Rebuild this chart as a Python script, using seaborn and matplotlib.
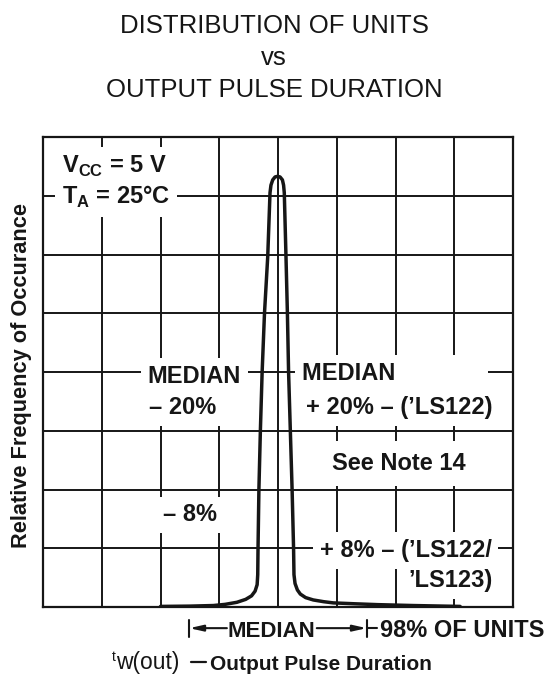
import matplotlib
matplotlib.use("Agg")
import matplotlib.pyplot as plt
import seaborn as sns

# curve, in grid divisions (8 x 8 grid, median at 4)
tw_units = [2.0, 2.5, 2.9, 3.1, 3.3, 3.45, 3.55, 3.61, 3.645, 3.655, 3.66,
            3.675, 3.70, 3.73, 3.77, 3.825, 3.864, 3.88, 3.91, 3.95, 3.99,
            4.035, 4.075, 4.095, 4.107, 4.136, 4.16, 4.18, 4.21, 4.24, 4.265,
            4.272, 4.29, 4.33, 4.38, 4.47, 4.6, 4.78, 4.94, 5.3, 5.7, 6.3, 7.1]
rel_freq = [0.01, 0.015, 0.025, 0.045, 0.08, 0.13, 0.19, 0.27, 0.38, 0.55, 1.0,
            2.0, 3.0, 4.0, 5.0, 5.96, 7.05, 7.18, 7.27, 7.32, 7.33,
            7.32, 7.27, 7.18, 7.05, 5.96, 5.0, 4.0, 3.0, 2.0, 1.0,
            0.55, 0.4, 0.29, 0.22, 0.16, 0.12, 0.09, 0.07, 0.055, 0.04, 0.025, 0.01]

title_lines = ["DISTRIBUTION OF UNITS", "vs", "OUTPUT PULSE DURATION"]
y_label = "Relative Frequency of Occurance"
x_label = "Output Pulse Duration"
median_span = [2.49, 5.51]   # |<- MEDIAN ->| bracket under the axis

ink = "#161616"

sns.set_style("white")
plt.rcParams["font.family"] = ["Liberation Sans", "DejaVu Sans"]
plt.rcParams["mathtext.fontset"] = "custom"
plt.rcParams["mathtext.rm"] = "Liberation Sans"
plt.rcParams["mathtext.bf"] = "Liberation Sans:bold"

fig = plt.figure(figsize=(5.51, 6.76), dpi=100)
ax = fig.add_axes([43 / 551, 69 / 676, 470 / 551, 470 / 676])

ax.set_xlim(0, 8)
ax.set_ylim(0, 8)
ax.set_xticks(range(9))
ax.set_yticks(range(9))
ax.set_xticklabels([])
ax.set_yticklabels([])
ax.tick_params(length=0)
ax.set_axisbelow(True)
ax.grid(True, color=ink, lw=1.4)
for s in ax.spines.values():
    s.set_color(ink)
    s.set_linewidth(1.6)

sns.lineplot(x=tw_units, y=rel_freq, sort=False, estimator=None, color=ink,
             lw=2.5, ax=ax, zorder=6, solid_capstyle="round")
ax.set_xlabel("")
ax.set_ylabel("")

# labels inside the grid (white boxes cut the grid lines like on the datasheet)
box = dict(boxstyle="square,pad=0.28", fc="white", ec="none")
bold = dict(fontweight="bold", fontsize=17, color=ink, zorder=4, va="baseline")

ax.text(0.32, 7.39, r"V$_{\mathbf{CC}}$ = 5 V", ha="left", bbox=box, **bold)
ax.text(0.32, 6.86, r"T$_{\mathbf{A}}$ = 25°C", ha="left", bbox=box, **bold)

ax.text(1.78, 3.82, "MEDIAN", ha="left", bbox=box, **bold)
ax.text(1.80, 3.28, "– 20%", ha="left", bbox=box, **bold)

ax.text(4.41, 3.87, "MEDIAN             ", ha="left", bbox=box, **bold)
ax.text(4.47, 3.28, "+ 20% – (’LS122)", ha="left", bbox=box, **bold)

ax.text(6.06, 2.33, "See Note 14", ha="center",
        bbox=dict(boxstyle="square,pad=0.45", fc="white", ec="none"), **bold)

ax.text(2.04, 1.46, "– 8%", ha="left", bbox=box, **bold)

ax.text(7.64, 0.85, "+ 8% – (’LS122/", ha="right", bbox=box, **bold)
ax.text(7.66, 0.34, "’LS123)", ha="right", bbox=box, **bold)

# bracket under the axis: |<- MEDIAN ->|- 98% OF UNITS
yb = -0.36
arrow = dict(arrowstyle="-|>,head_length=0.8,head_width=0.18", color=ink, lw=1.5,
             shrinkA=0, shrinkB=0)
for m in median_span:
    ax.plot([m, m], [yb + 0.14, yb - 0.15], color=ink, lw=1.5, clip_on=False)
ax.annotate("", xy=(median_span[0], yb), xytext=(3.13, yb),
            arrowprops=arrow, annotation_clip=False)
ax.annotate("", xy=(median_span[1], yb), xytext=(4.66, yb),
            arrowprops=arrow, annotation_clip=False)
ax.plot([median_span[1], median_span[1] + 0.18], [yb, yb], color=ink, lw=1.5,
        clip_on=False)
ax.text(3.88, -0.505, "MEDIAN", ha="center", va="baseline", fontsize=16,
        fontweight="bold", color=ink)
ax.text(5.74, -0.505, "98% OF UNITS", ha="left", va="baseline", fontsize=17,
        fontweight="bold", color=ink)

# x label: t w(out) — Output Pulse Duration
ax.text(1.17, -0.92, "t", ha="left", va="baseline", fontsize=10, color=ink)
ax.text(1.24, -1.05, "w(out)", ha="left", va="baseline", fontsize=16.5, color=ink)
ax.plot([2.52, 2.77], [-0.93, -0.93], color=ink, lw=1.6, clip_on=False)
ax.text(2.84, -1.065, x_label, ha="left", va="baseline", fontsize=15,
        fontweight="bold", color=ink)

# y label and title
fig.text(22 / 551, 1 - 375 / 676, y_label, rotation=90, ha="center", va="center",
         fontsize=15.7, fontweight="bold", color=ink)
for line, base in zip(title_lines, [33, 65, 97]):
    fig.text(274 / 551, 1 - base / 676, line, ha="center", va="baseline",
             fontsize=18.5, color=ink)

fig.savefig("out.png", dpi=100, facecolor="white")
